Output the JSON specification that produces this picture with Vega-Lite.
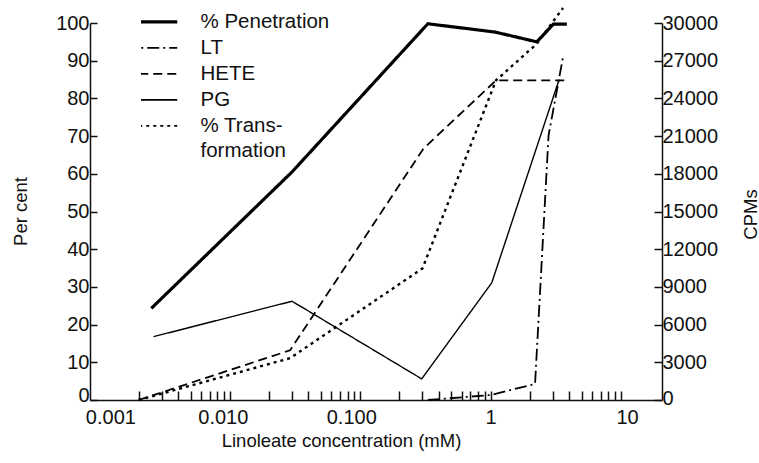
{
  "$schema": "https://vega.github.io/schema/vega-lite/v6.json",
  "width": 572,
  "height": 377,
  "autosize": "none",
  "padding": {"left": 90, "top": 23, "right": 97, "bottom": 63},
  "background": "white",
  "config": {
    "view": {"stroke": null},
    "font": "Liberation Sans",
    "axis": {
      "grid": false,
      "domainColor": "#111",
      "domainWidth": 1.5,
      "tickColor": "#111",
      "tickWidth": 1.5,
      "labelColor": "#111",
      "labelFont": "Liberation Sans",
      "labelFontSize": 20,
      "titleFont": "Liberation Sans",
      "titleFontSize": 18.5,
      "titleFontWeight": "normal",
      "titleColor": "#111"
    },
    "legend": {
      "labelFont": "Liberation Sans",
      "labelFontSize": 20.5,
      "labelColor": "#111"
    },
    "style": {"guide-label": {"lineHeight": 25}}
  },
  "datasets": {
    "percent": [
      {"series": "% Penetration", "conc": 0.0025, "value": 24.3},
      {"series": "% Penetration", "conc": 0.03, "value": 60.5},
      {"series": "% Penetration", "conc": 0.33, "value": 99.8},
      {"series": "% Penetration", "conc": 1.08, "value": 97.6},
      {"series": "% Penetration", "conc": 2.26, "value": 95.0},
      {"series": "% Penetration", "conc": 3.03, "value": 99.7},
      {"series": "% Penetration", "conc": 3.84, "value": 99.7},
      {"series": "% Transformation", "conc": 0.002, "value": 0},
      {"series": "% Transformation", "conc": 0.029, "value": 11.1},
      {"series": "% Transformation", "conc": 0.3, "value": 34.9},
      {"series": "% Transformation", "conc": 1.1, "value": 84.8},
      {"series": "% Transformation", "conc": 2.26, "value": 94.5},
      {"series": "% Transformation", "conc": 3.59, "value": 104}
    ],
    "cpm": [
      {"series": "LT", "conc": 0.33, "value": 0},
      {"series": "LT", "conc": 1.0, "value": 400},
      {"series": "LT", "conc": 2.19, "value": 1270},
      {"series": "LT", "conc": 2.78, "value": 21060},
      {"series": "LT", "conc": 3.59, "value": 27300},
      {"series": "HETE", "conc": 0.002, "value": 0},
      {"series": "HETE", "conc": 0.029, "value": 3960},
      {"series": "HETE", "conc": 0.305, "value": 20000},
      {"series": "HETE", "conc": 1.1, "value": 25440},
      {"series": "HETE", "conc": 3.9, "value": 25440},
      {"series": "PG", "conc": 0.0026, "value": 5040},
      {"series": "PG", "conc": 0.03, "value": 7860},
      {"series": "PG", "conc": 0.296, "value": 1680},
      {"series": "PG", "conc": 1.02, "value": 9330},
      {"series": "PG", "conc": 3.35, "value": 25500}
    ]
  },
  "layer": [
    {
      "data": {"name": "percent"},
      "mark": {"type": "line", "color": "black", "strokeCap": "butt", "strokeJoin": "miter"},
      "encoding": {
        "x": {
          "field": "conc",
          "type": "quantitative",
          "scale": {"type": "log", "domain": [0.000847, 20.6], "nice": false},
          "axis": {
            "orient": "bottom",
            "values": [0.001, 0.01, 0.1, 1, 10],
            "ticks": false,
            "labelPadding": 7,
            "labelExpr": "datum.value >= 1 ? format(datum.value, 'd') : format(datum.value, '.3f')",
            "labelOffset": {
              "condition": [
                {"test": "datum.value == 0.001", "value": 11},
                {"test": "datum.value == 0.01", "value": -7},
                {"test": "datum.value == 0.1", "value": -9},
                {"test": "datum.value == 10", "value": 6}
              ],
              "value": 0
            },
            "title": "Linoleate concentration (mM)",
            "titleX": 251,
            "titleY": 40,
            "titleAlign": "center",
            "titleBaseline": "middle"
          }
        },
        "y": {
          "field": "value",
          "type": "quantitative",
          "scale": {"domain": [0, 100], "nice": false, "zero": false},
          "axis": {
            "orient": "left",
            "values": [0, 10, 20, 30, 40, 50, 60, 70, 80, 90, 100],
            "tickSize": -7,
            "labelPadding": 8,
            "labelOffset": {"condition": {"test": "datum.value == 0", "value": -5}, "value": 0},
            "title": "Per cent",
            "titleAngle": 270,
            "titleX": -70,
            "titleY": 188,
            "titleAlign": "center",
            "titleBaseline": "middle"
          }
        },
        "strokeDash": {
          "field": "series",
          "type": "nominal",
          "scale": {
            "domain": ["% Penetration", "LT", "HETE", "PG", "% Transformation"],
            "range": [[1, 0], [12, 4, 2, 4], [9, 5], [1, 0], [3, 4]]
          },
          "legend": {
            "orient": "none",
            "legendX": 51,
            "legendY": -14,
            "title": null,
            "symbolType": "stroke",
            "symbolSize": 2704,
            "symbolStrokeColor": "black",
            "clipHeight": 25.7,
            "rowPadding": 0,
            "labelOffset": 39,
            "labelExpr": "datum.label == '% Transformation' ? ['% Trans-', 'formation'] : datum.label",
            "encode": {
              "symbols": {
                "update": {
                  "strokeWidth": {"signal": "datum.label == '% Penetration' ? 3.4 : 1.8"},
                  "stroke": {"value": "black"}
                }
              }
            }
          }
        },
        "strokeWidth": {
          "condition": {"test": "datum.series == '% Penetration'", "value": 3.2},
          "value": 2.4
        }
      }
    },
    {
      "data": {"name": "cpm"},
      "mark": {"type": "line", "color": "black", "strokeCap": "butt", "strokeJoin": "miter"},
      "encoding": {
        "x": {
          "field": "conc",
          "type": "quantitative",
          "scale": {"type": "log", "domain": [0.000847, 20.6], "nice": false},
          "axis": {
            "orient": "bottom",
            "values": [0.002, 0.003, 0.004, 0.005, 0.006, 0.007, 0.008, 0.009, 0.01,
                       0.02, 0.03, 0.04, 0.05, 0.06, 0.07, 0.08, 0.09, 0.1,
                       0.2, 0.3, 0.4, 0.5, 0.6, 0.7, 0.8, 0.9, 1,
                       2, 3, 4, 5, 6, 7, 8, 9, 10],
            "tickSize": -9,
            "labels": false,
            "domain": false,
            "title": null
          }
        },
        "y": {
          "field": "value",
          "type": "quantitative",
          "scale": {"domain": [0, 30000], "nice": false, "zero": false},
          "axis": {
            "orient": "right",
            "values": [0, 3000, 6000, 9000, 12000, 15000, 18000, 21000, 24000, 27000, 30000],
            "format": "d",
            "tickSize": -8,
            "labelPadding": 8,
            "labelOffset": {"condition": {"test": "datum.value == 0", "value": -2}, "value": 0},
            "title": "CPMs",
            "titleAngle": 270,
            "titleX": 88,
            "titleY": 191,
            "titleAlign": "center",
            "titleBaseline": "middle"
          }
        },
        "strokeDash": {
          "field": "series",
          "type": "nominal",
          "scale": {
            "domain": ["% Penetration", "LT", "HETE", "PG", "% Transformation"],
            "range": [[1, 0], [12, 4, 2, 4], [9, 5], [1, 0], [3, 4]]
          }
        },
        "strokeWidth": {
          "condition": {"test": "datum.series == 'PG'", "value": 1.4},
          "value": 1.8
        }
      }
    }
  ],
  "resolve": {"scale": {"y": "independent"}, "axis": {"x": "independent"}}
}
